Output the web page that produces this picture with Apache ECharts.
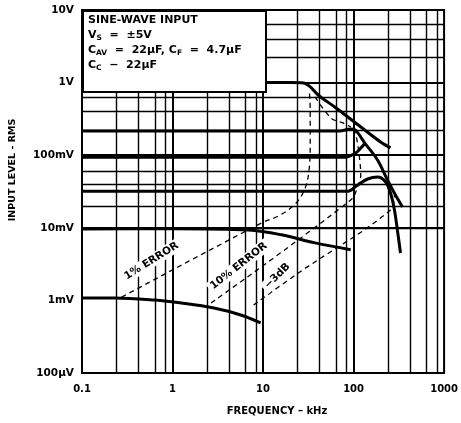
<!DOCTYPE html>
<html><head><meta charset="utf-8">
<script src="https://cdn.jsdelivr.net/npm/echarts@6/dist/echarts.min.js"></script>
<style>html,body{margin:0;padding:0;background:#fff}#c{width:461px;height:423px}</style>
</head><body><div id="c"></div>
<script>
// ---- data ----
const xTicks = [0.1, 1, 10, 100, 1000];
const xTickLabels = ['0.1', '1', '10', '100', '1000'];
const yTicks = [0.0001, 0.001, 0.01, 0.1, 1, 10];
const yTickLabels = ['100\u00b5V', '1mV', '10mV', '100mV', '1V', '10V'];
const xMinorMult = [2.4, 4.2, 6.4, 8.4];
const yMinorMult = [2.2, 4, 6.3];
const xTitle = 'FREQUENCY \u2013 kHz';
const yTitle = 'INPUT LEVEL - RMS';

const curve1V = [[0.1,1],[20,1],[28,0.99],[33,0.88],[40.6,0.675],[62,0.461],[86.5,0.336],[133,0.222],[199,0.152],[256,0.126]];
const curve200mV = [[0.1,0.215],[70,0.215],[93,0.23],[103,0.225],[133,0.147],[184,0.086],[237,0.0455],[283,0.030],[347,0.0194]];
const curve100mV = [[0.1,0.094],[80,0.094],[103,0.105],[120,0.125],[133,0.145]];
const curve30mV = [[0.1,0.032],[86.5,0.032],[111,0.0389],[143,0.047],[184,0.050],[226,0.0428],[256,0.0302],[283,0.0176],[305,0.0093],[330,0.0045]];
const curve10mV = [[0.1,0.0096],[1,0.0097],[6.9,0.0093],[16,0.0080],[37.6,0.0062],[93,0.0050]];
const curve1mV = [[0.1,0.00108],[0.23,0.00108],[0.63,0.00101],[1.25,0.00092],[2.87,0.000785],[5.67,0.00063],[9.4,0.00049]];

const err1pct = [[0.274,0.00111],[9.6,0.01164],[14.8,0.01456],[22.7,0.0213],[29.2,0.0353],[32.4,0.0667],[33.2,0.162],[33.2,0.42],[32.4,0.79]];
const err10pct = [[2.66,0.00092],[93,0.0241],[111,0.0365],[120,0.0533],[117,0.086],[109,0.162],[101,0.237]];
const err3dB = [[7.87,0.000865],[24.5,0.00238],[256,0.0176],[283,0.0283]];
const err3dBUpper = [[37.6,0.634],[56.4,0.325],[76.2,0.278],[93,0.245]];

const annotationText = ['1% ERROR', '10% ERROR', '\u22123dB'];
const annotationAt = [[0.585,0.00349],[5.4,0.00298],[14.4,0.00217]];
const annotationAngle = [32, 38, 45];

const boxLines = [
  '{m|SINE-WAVE INPUT}',
  '{m|V}{s|S}{m|  =  \u00b15V}',
  '{m|C}{s|AV}{m|  =  22\u00b5F, C}{s|F}{m|  =  4.7\u00b5F}',
  '{m|C}{s|C}{m|  \u2212  22\u00b5F}'
];

// ---- chart ----
const FONT = 'DejaVu Sans';
const chart = echarts.init(document.getElementById('c'), null, {renderer: 'canvas'});

function idxOf(arr, v) {
  let best = 0, bd = Infinity;
  arr.forEach((t, i) => { const d = Math.abs(Math.log10(t) - Math.log10(v)); if (d < bd) { bd = d; best = i; } });
  return best;
}

const vLines = [], hLines = [];
for (let i = 0; i < xTicks.length - 1; i++) xMinorMult.forEach(m => vLines.push({xAxis: xTicks[i] * m}));
for (let i = 0; i < yTicks.length - 1; i++) yMinorMult.forEach(m => hLines.push({yAxis: yTicks[i] * m}));
const majorV = xTicks.slice(1, -1).map(v => ({xAxis: v}));
const majorH = yTicks.slice(1, -1).map(v => ({yAxis: v}));

function solid(data) {
  return {type: 'line', data, showSymbol: false, smooth: 0.35, z: 5,
    lineStyle: {color: '#000', width: 3}, silent: true};
}
function dashed(data) {
  return {type: 'line', data, showSymbol: false, smooth: 0.35, z: 4,
    lineStyle: {color: '#000', width: 1.3, type: [5, 4]}, silent: true};
}

const option = {
  animation: false,
  backgroundColor: '#fff',
  grid: {left: 82, right: 14, top: 10, bottom: 50, show: true, borderColor: '#000', borderWidth: 2, backgroundColor: 'transparent'},
  xAxis: {
    type: 'log', logBase: 10, min: 0.1, max: 1000,
    axisLine: {show: false}, axisTick: {show: false}, splitLine: {show: false},
    axisLabel: {formatter: v => xTickLabels[idxOf(xTicks, v)], color: '#000', fontFamily: FONT, fontWeight: 'bold', fontSize: 10, margin: 11}
  },
  yAxis: {
    type: 'log', logBase: 10, min: 0.0001, max: 10,
    axisLine: {show: false}, axisTick: {show: false}, splitLine: {show: false},
    axisLabel: {formatter: v => yTickLabels[idxOf(yTicks, v)], color: '#000', fontFamily: FONT, fontWeight: 'bold', fontSize: 10.5, margin: 8}
  },
  series: [
    {type: 'line', data: [], z: 1, silent: true,
      markLine: {silent: true, symbol: ['none', 'none'], label: {show: false}, animation: false,
        lineStyle: {color: '#000', width: 1.4, type: 'solid'}, data: vLines.concat(hLines)}},
    {type: 'line', data: [], z: 1, silent: true,
      markLine: {silent: true, symbol: ['none', 'none'], label: {show: false}, animation: false,
        lineStyle: {color: '#000', width: 2, type: 'solid'}, data: majorV.concat(majorH)}},
    solid(curve1V), solid(curve200mV), solid(curve100mV), solid(curve30mV), solid(curve10mV), solid(curve1mV),
    dashed(err1pct), dashed(err10pct), dashed(err3dB), dashed(err3dBUpper)
  ]
};
chart.setOption(option);

// legend box, axis titles and annotations
const rich = {
  m: {fontFamily: FONT, fontWeight: 'bold', fontSize: 11, fill: '#000', color: '#000'},
  s: {fontFamily: FONT, fontWeight: 'bold', fontSize: 7.5, fill: '#000', color: '#000', padding: [6, 0, 0, 0]}
};
const graphics = [{
  type: 'rect', z: 100, left: 82, top: 10,
  shape: {width: 183, height: 81},
  style: {fill: '#fff', stroke: '#000', lineWidth: 2}
}];
const lineTops = [15, 30, 45, 60];
boxLines.forEach((t, i) => {
  graphics.push({type: 'text', z: 101, left: 88, top: lineTops[i],
    style: {text: t, rich: rich, font: 'bold 11px ' + FONT, fill: '#000'}});
});
graphics.push({type: 'text', z: 101, x: 277, y: 411,
  style: {text: xTitle, font: 'bold 10px ' + FONT, fill: '#000', align: 'center', verticalAlign: 'middle'}});
graphics.push({type: 'text', z: 101, x: 13, y: 170, rotation: Math.PI / 2,
  style: {text: yTitle, font: 'bold 9.5px ' + FONT, fill: '#000', align: 'center', verticalAlign: 'middle'}});
annotationText.forEach((t, i) => {
  const p = chart.convertToPixel({gridIndex: 0}, annotationAt[i]);
  graphics.push({type: 'text', z: 101, x: p[0], y: p[1], rotation: annotationAngle[i] * Math.PI / 180,
    style: {text: t, font: 'bold 10.5px ' + FONT, fill: '#000', align: 'center', verticalAlign: 'middle',
      backgroundColor: '#fff', padding: [1, 3]}});
});
chart.setOption({graphic: graphics});
</script></body></html>
